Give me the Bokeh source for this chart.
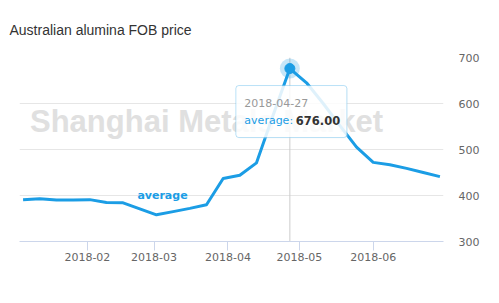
import pandas as pd
from bokeh.plotting import figure
from bokeh.models import Range1d, FixedTicker, Label, BoxAnnotation
from bokeh.embed import file_html
from bokeh.resources import INLINE

# ---- data ----
dates = ["2018-01-05", "2018-01-12", "2018-01-19", "2018-01-26", "2018-02-02",
         "2018-02-09", "2018-02-16", "2018-03-02", "2018-03-09", "2018-03-16",
         "2018-03-23", "2018-03-30", "2018-04-06", "2018-04-13", "2018-04-20",
         "2018-04-27", "2018-05-04", "2018-05-11", "2018-05-18", "2018-05-25",
         "2018-06-01", "2018-06-08", "2018-06-15", "2018-06-22", "2018-06-29"]
values = [391, 393, 390, 390, 391,
          385, 384, 358, 365, 372,
          380, 437, 444, 471, 575,
          676, 645, 600, 552, 505,
          472, 467, 459, 450, 441]
series_name = "average"
title_text = "Australian alumina FOB price"
watermark = "Shanghai Metals Market"
x_tick_dates = ["2018-02-01", "2018-03-01", "2018-04-01", "2018-05-01", "2018-06-01"]
x_tick_labels = ["2018-02", "2018-03", "2018-04", "2018-05", "2018-06"]
y_ticks = [300, 400, 500, 600, 700]

# ---- layout constants ----
W, H = 499, 303
FL, FR, FT, FB = 19, 443, 57, 241  # frame edges in canvas px
BLUE = "#1b9de5"

x = pd.to_datetime(dates)
x_start = pd.Timestamp("2018-01-03 12:00")
x_end = pd.Timestamp("2018-06-30 12:00")
y_lo, y_hi = 300, 700

def px2x(px):
    return x_start + (x_end - x_start) * ((px - FL) / (FR - FL))

def px2y(py):
    return y_hi - (py - FT) * (y_hi - y_lo) / (FB - FT)

def x2px(t):
    return FL + (t - x_start) / (x_end - x_start) * (FR - FL)

def y2px(v):
    return FT + (y_hi - v) * (FB - FT) / (y_hi - y_lo)

p = figure(width=W, height=H, x_axis_type="datetime", y_axis_location="right",
           output_backend="svg", toolbar_location=None,
           x_range=Range1d(x_start, x_end), y_range=Range1d(y_lo, y_hi),
           min_border_left=FL, min_border_right=W - FR,
           min_border_top=FT, min_border_bottom=H - FB)
p.outline_line_color = None
p.background_fill_color = "white"
p.border_fill_color = "white"

# title
p.title.text = title_text
p.title.text_font = "Liberation Sans"
p.title.text_font_size = "14px"
p.title.text_font_style = "normal"
p.title.text_color = "#333333"
p.title.align = "left"
p.title.offset = -10
p.title.vertical_align = "top"
p.title.standoff = 36

# axes
ms = [pd.Timestamp(d).value / 1e6 for d in x_tick_dates]
xa = p.xaxis[0]
xa.ticker = FixedTicker(ticks=ms)
xa.major_label_overrides = {m: l for m, l in zip(ms, x_tick_labels)}
xa.axis_line_color = "#ccd6eb"
xa.major_tick_line_color = "#ccd6eb"
xa.major_tick_in = 0
xa.major_tick_out = 9
xa.minor_tick_line_color = None
xa.major_label_standoff = 2
xa.major_label_text_font = "DejaVu Sans"
xa.major_label_text_font_size = "11px"
xa.major_label_text_color = "#666666"

ya = p.yaxis[0]
ya.ticker = FixedTicker(ticks=y_ticks)
ya.axis_line_color = None
ya.major_tick_line_color = None
ya.minor_tick_line_color = None
ya.major_tick_out = 0
ya.major_tick_in = 0
ya.major_label_standoff = 15
ya.major_label_text_font = "DejaVu Sans"
ya.major_label_text_font_size = "11px"
ya.major_label_text_color = "#666666"

p.xgrid.grid_line_color = None
p.ygrid.ticker = FixedTicker(ticks=y_ticks)
p.ygrid.grid_line_color = "#e6e6e6"

# watermark
p.add_layout(Label(x=px2x(29.5), y=px2y(121), text=watermark,
                   text_font="Liberation Sans", text_font_size="31px",
                   text_font_style="bold", text_color="#e0e0e0",
                   text_baseline="alphabetic", text_align="left", level="underlay"))

# crosshair at the peak
i_peak = max(range(len(values)), key=lambda i: values[i])
px_peak = x[i_peak]
vy_peak = values[i_peak]
p.segment(x0=[px_peak], y0=[y_lo], x1=[px_peak], y1=[y_hi], line_color="#cccccc", line_width=1)

# series
p.line(x, values, line_color=BLUE, line_width=3, line_join="round")

# series label
p.add_layout(Label(x=px2x(162), y=px2y(195), text=series_name,
                   text_font="DejaVu Sans", text_font_size="11px", text_font_style="bold",
                   text_color=BLUE, text_align="center", text_baseline="middle"))

# hover marker
p.scatter([px_peak], [vy_peak], size=20, fill_color=BLUE, fill_alpha=0.25, line_color=None)
p.scatter([px_peak], [vy_peak], size=10, fill_color=BLUE, line_color=BLUE, line_width=1)

# tooltip
cx, cy = x2px(px_peak), y2px(vy_peak)
p.add_layout(BoxAnnotation(left=px2x(cx - 53), right=px2x(cx + 58),
                           top=px2y(cy + 18), bottom=px2y(cy + 70),
                           fill_color="#eeeeee", fill_alpha=0.25, line_color=None,
                           border_radius=3, level="overlay"))
p.add_layout(BoxAnnotation(left=px2x(cx - 54), right=px2x(cx + 57),
                           top=px2y(cy + 17), bottom=px2y(cy + 69),
                           fill_color="white", fill_alpha=0.82,
                           line_color=BLUE, line_width=1, border_radius=3, level="overlay"))
p.add_layout(Label(x=px2x(cx - 45.5), y=px2y(cy + 34), text=str(px_peak.date()),
                   text_font="DejaVu Sans", text_font_size="11px", text_color="#999999",
                   text_align="left", text_baseline="middle", level="overlay"))
p.add_layout(Label(x=px2x(cx - 45.5), y=px2y(cy + 52), text=series_name + ":",
                   text_font="DejaVu Sans", text_font_size="11px", text_color=BLUE,
                   text_align="left", text_baseline="middle", level="overlay"))
p.add_layout(Label(x=px2x(cx + 6), y=px2y(cy + 52), text=f"{vy_peak:.2f}",
                   text_font="DejaVu Sans", text_font_size="11.5px", text_font_style="bold",
                   text_color="#333333",
                   text_align="left", text_baseline="middle", level="overlay"))

open("out.html", "w").write(file_html(p, INLINE))
